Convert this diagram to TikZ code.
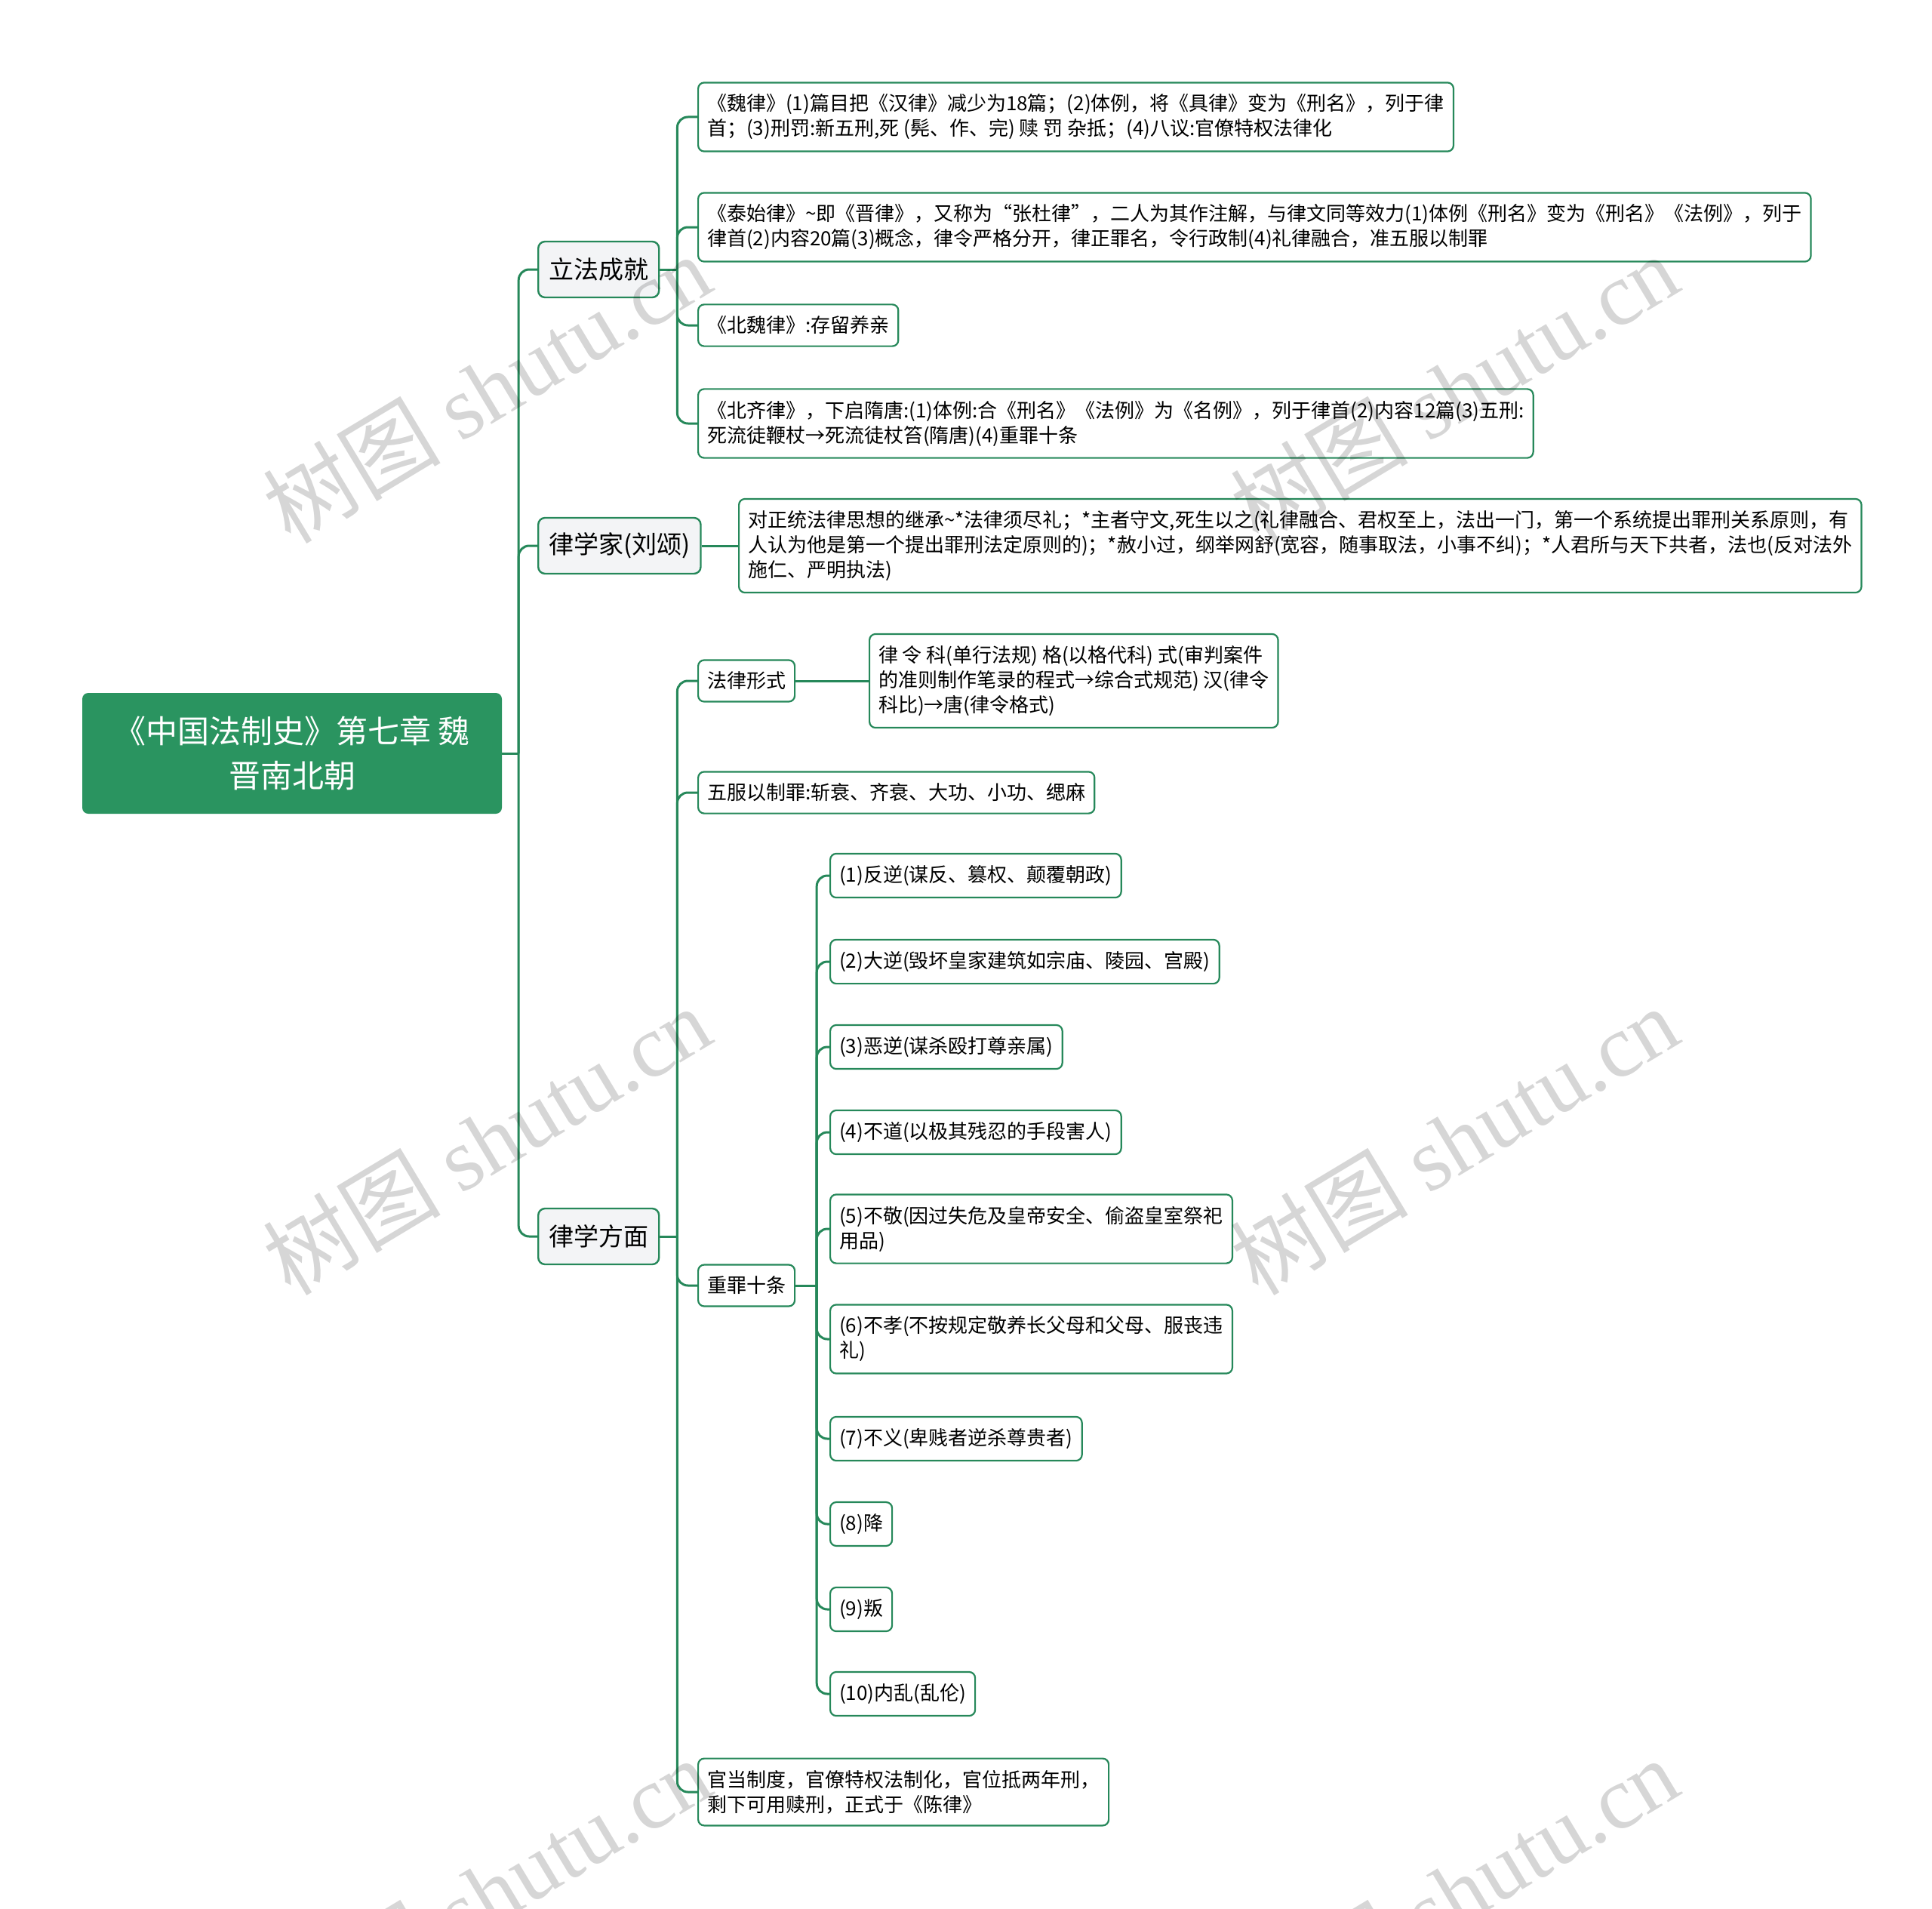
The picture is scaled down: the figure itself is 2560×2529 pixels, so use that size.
\documentclass[tikz,border=0pt]{standalone}
\usepackage{fontspec}
\setmainfont{Noto Sans CJK SC}
\newfontfamily\wmfont{Liberation Serif}
\definecolor{mapgreen}{RGB}{42,148,96}
\definecolor{linegreen}{RGB}{38,136,90}
\definecolor{topicgray}{RGB}{243,244,246}

\begin{document}
\begin{tikzpicture}[x=1pt,y=-1pt,
	conn/.style={draw=linegreen,line width=3pt,rounded corners=14pt},
	leaf/.style={draw=linegreen,line width=2.2pt,fill=white,rounded corners=8pt,anchor=west,align=left,
		inner xsep=12pt,inner ysep=15.5pt,font=\fontsize{26}{33}\selectfont},
	topic/.style={draw=linegreen,line width=2.4pt,fill=topicgray,rounded corners=9pt,anchor=west,
		inner xsep=14pt,minimum height=74pt,font=\fontsize{33}{40}\selectfont},
	rootnode/.style={fill=mapgreen,text=white,rounded corners=8pt,align=center,minimum width=556pt,
		minimum height=160pt,font=\fontsize{42}{59}\selectfont},
	wm/.style={text=black,opacity=0.16,font=\fontsize{118}{118}\selectfont,rotate=31}]
	
	\useasboundingbox (0,0) rectangle (2560,2529);
	
	% root
	\node[rootnode] (root) at (387,998) {《中国法制史》第七章 魏\\晋南北朝};
	
	% first level
	\node[topic] (lf) at (712,357) {立法成就};
	\node[topic] (lxj) at (712,723) {律学家(刘颂)};
	\node[topic] (lxf) at (712,1638) {律学方面};
	
	% 立法成就
	\node[leaf] (weilv) at (924,155) {《魏律》(1)篇目把《汉律》减少为18篇；(2)体例，将《具律》变为《刑名》，列于律\\首；(3)刑罚:新五刑,死 (髡、作、完) 赎 罚 杂抵；(4)八议:官僚特权法律化};
	\node[leaf] (taishi) at (924,301) {《泰始律》\textasciitilde 即《晋律》，又称为“张杜律”，二人为其作注解，与律文同等效力(1)体例《刑名》变为《刑名》《法例》，列于\\律首(2)内容20篇(3)概念，律令严格分开，律正罪名，令行政制(4)礼律融合，准五服以制罪};
	\node[leaf] (beiwei) at (924,431) {《北魏律》:存留养亲};
	\node[leaf] (beiqi) at (924,561) {《北齐律》，下启隋唐:(1)体例:合《刑名》《法例》为《名例》，列于律首(2)内容12篇(3)五刑:\\死流徒鞭杖→死流徒杖笞(隋唐)(4)重罪十条};
	
	% 律学家
	\node[leaf] (liusong) at (978,723) {对正统法律思想的继承\textasciitilde *法律须尽礼；*主者守文,死生以之(礼律融合、君权至上，法出一门，第一个系统提出罪刑关系原则，有\\人认为他是第一个提出罪刑法定原则的)；*赦小过，纲举网舒(宽容，随事取法，小事不纠)；*人君所与天下共者，法也(反对法外\\施仁、严明执法)};
	
	% 律学方面
	\node[leaf] (xingshi) at (924,902) {法律形式};
	\node[leaf] (xingshix) at (1151,902) {律 令 科(单行法规) 格(以格代科) 式(审判案件\\的准则制作笔录的程式→综合式规范) 汉(律令\\科比)→唐(律令格式)};
	\node[leaf] (wufu) at (924,1050) {五服以制罪:斩衰、齐衰、大功、小功、缌麻};
	\node[leaf] (shitiao) at (924,1703) {重罪十条};
	\node[leaf] (guandang) at (924,2374) {官当制度，官僚特权法制化，官位抵两年刑，\\剩下可用赎刑，正式于《陈律》};
	
	% 重罪十条
	\node[leaf] (c1) at (1099,1160) {(1)反逆(谋反、篡权、颠覆朝政)};
	\node[leaf] (c2) at (1099,1274) {(2)大逆(毁坏皇家建筑如宗庙、陵园、宫殿)};
	\node[leaf] (c3) at (1099,1387) {(3)恶逆(谋杀殴打尊亲属)};
	\node[leaf] (c4) at (1099,1500) {(4)不道(以极其残忍的手段害人)};
	\node[leaf] (c5) at (1099,1628) {(5)不敬(因过失危及皇帝安全、偷盗皇室祭祀\\用品)};
	\node[leaf] (c6) at (1099,1774) {(6)不孝(不按规定敬养长父母和父母、服丧违\\礼)};
	\node[leaf] (c7) at (1099,1906) {(7)不义(卑贱者逆杀尊贵者)};
	\node[leaf] (c8) at (1099,2019) {(8)降};
	\node[leaf] (c9) at (1099,2132) {(9)叛};
	\node[leaf] (c10) at (1099,2244) {(10)内乱(乱伦)};
	
	% connectors
	\draw[conn] (root.east) -- ++(22,0) coordinate (rj);
	\foreach \n in {lf,lxj,lxf}
	\draw[conn] (rj) |- (\n.west);
	
	\draw[conn] (lf.east) -- ++(23,0) coordinate (lfj);
	\foreach \n in {weilv,taishi,beiwei,beiqi}
	\draw[conn] (lfj) |- (\n.west);
	
	\draw[conn] (lxj.east) -- (liusong.west);
	
	\draw[conn] (lxf.east) -- ++(23,0) coordinate (lxfj);
	\foreach \n in {xingshi,wufu,shitiao,guandang}
	\draw[conn] (lxfj) |- (\n.west);
	
	\draw[conn] (xingshi.east) -- (xingshix.west);
	
	\draw[conn] (shitiao.east) -- ++(28,0) coordinate (stj);
	\foreach \n in {c1,c2,c3,c4,c5,c6,c7,c8,c9,c10}
	\draw[conn] (stj) |- (\n.west);
	
	% watermark
	\begin{scope}
		\clip (0,0) rectangle (2560,2529);
		\foreach \wx in {645,1927}
		\foreach \wy in {514,1510,2506}
		\node[wm] at (\wx,\wy) {树图 {\wmfont shutu.cn}};
	\end{scope}
	
\end{tikzpicture}
\end{document}
